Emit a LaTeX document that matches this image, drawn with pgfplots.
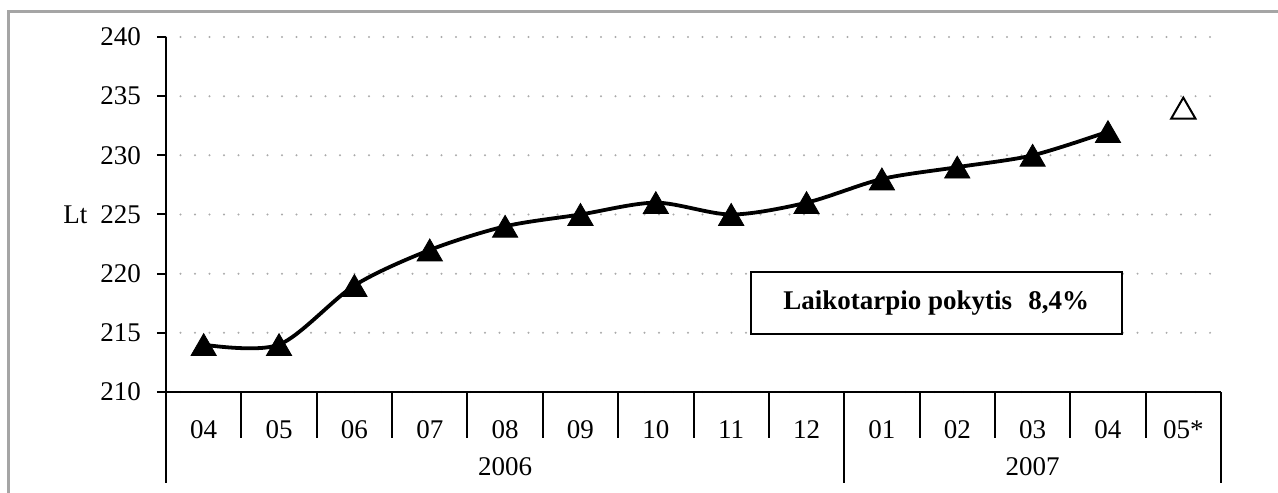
\documentclass[border=0pt]{standalone}
\usepackage{fontspec}
\setmainfont{Liberation Serif}
\usepackage{pgfplots}
\pgfplotsset{compat=1.18}
\definecolor{framegray}{RGB}{165,165,165}
\definecolor{dotgray}{RGB}{170,170,170}
\begin{document}
\begin{tikzpicture}[font=\fontsize{13.5}{16}\selectfont]
\path[use as bounding box] (0,0) rectangle (639pt,246pt);
\draw[line width=1.75pt, framegray] (4.25pt,-5pt) -- (4.25pt,240.25pt) -- (650pt,240.25pt);
\begin{axis}[
  at={(83pt,50pt)}, anchor=south west,
  scale only axis, width=527.5pt, height=177.5pt,
  xmin=-0.5, xmax=13.5, ymin=210, ymax=240,
  clip=false,
  axis x line*=bottom, axis y line*=left,
  axis line style={line width=1pt, black},
  /pgf/number format/assume math mode=true,
  ytick={210,215,...,240},
  ymajorgrids,
  grid style={dotgray, line width=1.1pt, dash pattern=on 0pt off 7.25pt, line cap=round},
  tick align=outside,
  major tick length=4.5pt,
  ytick style={line width=1pt, black},
  yticklabel style={anchor=east, xshift=-4.5pt},
  xtick={0,...,13},
  xticklabels={04,05,06,07,08,09,10,11,12,01,02,03,04,05*},
  xtick style={draw=none},
  xticklabel style={anchor=center, yshift=-14.5pt},
]
\addplot[black, line width=1.9pt, smooth, mark=triangle*, mark size=7.3pt,
  mark options={solid, fill=black, line width=0.4pt, yshift=-1.8pt}]
  coordinates {(0,214)(1,214)(2,219)(3,222)(4,224)(5,225)(6,226)(7,225)(8,226)(9,228)(10,229)(11,230)(12,232)};
\addplot[black, only marks, mark=triangle, mark size=7pt,
  mark options={solid, fill=white, line width=1pt, yshift=-1.8pt}]
  coordinates {(13,234)};
\draw[line width=1pt] (axis cs:0.5,210) -- ++(0pt,-23pt);
\draw[line width=1pt] (axis cs:1.5,210) -- ++(0pt,-23pt);
\draw[line width=1pt] (axis cs:2.5,210) -- ++(0pt,-23pt);
\draw[line width=1pt] (axis cs:3.5,210) -- ++(0pt,-23pt);
\draw[line width=1pt] (axis cs:4.5,210) -- ++(0pt,-23pt);
\draw[line width=1pt] (axis cs:5.5,210) -- ++(0pt,-23pt);
\draw[line width=1pt] (axis cs:6.5,210) -- ++(0pt,-23pt);
\draw[line width=1pt] (axis cs:7.5,210) -- ++(0pt,-23pt);
\draw[line width=1pt] (axis cs:9.5,210) -- ++(0pt,-23pt);
\draw[line width=1pt] (axis cs:10.5,210) -- ++(0pt,-23pt);
\draw[line width=1pt] (axis cs:11.5,210) -- ++(0pt,-23pt);
\draw[line width=1pt] (axis cs:12.5,210) -- ++(0pt,-23pt);
\draw[line width=1pt] (axis cs:-0.5,210) -- ++(0pt,-45.5pt);
\draw[line width=1pt] (axis cs:8.5,210) -- ++(0pt,-45.5pt);
\draw[line width=1pt] (axis cs:13.5,210) -- ++(0pt,-45.5pt);
\node at (axis cs:4,210) [yshift=-37.5pt] {2006};
\node at (axis cs:11,210) [yshift=-37.5pt] {2007};
\node[anchor=east] at (axis cs:-0.5,225) [xshift=-35.8pt] {Lt};
\node[draw, fill=white, line width=1pt, minimum width=185.5pt, minimum height=31pt,
  font=\bfseries\fontsize{13.5}{16}\selectfont] at (axis cs:9.72,217.52) {Laikotarpio pokytis\hspace{0.6em}8,4\%};
\end{axis}
\end{tikzpicture}
\end{document}
